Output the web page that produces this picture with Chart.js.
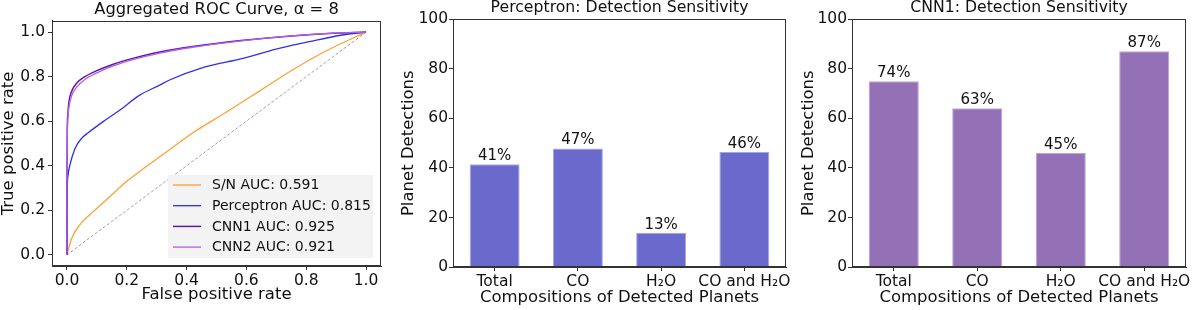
<!DOCTYPE html>
<html>
<head>
<meta charset="utf-8">
<script src="https://cdn.jsdelivr.net/npm/chart.js@4.4.1/dist/chart.umd.min.js"></script>
<style>
  html, body { margin: 0; padding: 0; background: #fff; }
  .panel { position: absolute; top: 0; width: 400px; height: 310px; }
</style>
</head>
<body>
<div class="panel" style="left:0px"><canvas id="rocChart" width="400" height="310"></canvas></div>
<div class="panel" style="left:400px"><canvas id="perceptronChart" width="400" height="310"></canvas></div>
<div class="panel" style="left:800px"><canvas id="cnnChart" width="400" height="310"></canvas></div>
<script>
// ROC curves (false positive rate / true positive rate)
const snFpr = [0, 0.016, 0.043, 0.088, 0.143, 0.199, 0.254, 0.31, 0.343, 0.421, 0.532, 0.643, 0.754, 0.866, 1];
const snTpr = [0, 0.075, 0.135, 0.194, 0.261, 0.329, 0.385, 0.44, 0.472, 0.548, 0.64, 0.735, 0.83, 0.915, 1];
const percFpr = [0, 0, 0.001, 0.004, 0.01, 0.027, 0.049, 0.071, 0.121, 0.177, 0.243, 0.31, 0.343, 0.454, 0.588, 0.699, 0.81, 0.921, 1];
const percTpr = [0, 0.2, 0.3, 0.36, 0.404, 0.478, 0.523, 0.548, 0.598, 0.65, 0.717, 0.762, 0.785, 0.841, 0.882, 0.924, 0.957, 0.987, 1];
const cnn1Fpr = [0, 0, 0.001, 0.003, 0.007, 0.016, 0.032, 0.06, 0.1, 0.155, 0.22, 0.31, 0.42, 0.59, 0.75, 0.89, 1];
const cnn1Tpr = [0, 0.3, 0.55, 0.63, 0.69, 0.735, 0.77, 0.8, 0.827, 0.856, 0.882, 0.911, 0.935, 0.963, 0.983, 0.995, 1];
const cnn2Fpr = [0, 0, 0.001, 0.003, 0.007, 0.016, 0.032, 0.06, 0.1, 0.155, 0.22, 0.31, 0.42, 0.59, 0.75, 0.89, 1];
const cnn2Tpr = [0, 0.3, 0.52, 0.61, 0.665, 0.715, 0.752, 0.787, 0.817, 0.848, 0.876, 0.906, 0.932, 0.962, 0.983, 0.995, 1];
const chanceLine = [0, 1];
const rocTicks = [0, 0.2, 0.4, 0.6, 0.8, 1.0];

// detection sensitivity bars
const categories = ['Total', 'CO', 'H₂O', 'CO and H₂O'];
const perceptronDetections = [41.5, 47.9, 13.8, 46.5];
const perceptronLabels = ['41%', '47%', '13%', '46%'];
const cnn1Detections = [75.0, 64.1, 46.0, 87.2];
const cnn1Labels = ['74%', '63%', '45%', '87%'];

const FONT = "'DejaVu Sans', sans-serif";
const INK = '#111';
const SPINE = '#333';
const TICK_SIZE = 15.5;
const LABEL_SIZE = 16.5;
Chart.defaults.font.family = FONT;
Chart.defaults.color = INK;

function points(xs, ys) {
  return xs.map((x, i) => ({ x: x, y: ys[i] }));
}

// box around the plot area, like matplotlib spines
const framePlugin = {
  id: 'frame',
  afterDatasetsDraw(chart) {
    const { ctx, chartArea: a } = chart;
    ctx.save();
    ctx.strokeStyle = SPINE;
    ctx.lineWidth = 1;
    ctx.strokeRect(Math.round(a.left) + 0.5, Math.round(a.top) + 0.5,
      Math.round(a.right - a.left) - 1, Math.round(a.bottom - a.top) - 1);
    ctx.restore();
  }
};

// legend box in the lower right corner of the ROC plot
const rocLegendPlugin = {
  id: 'rocLegend',
  afterDraw(chart, args, opts) {
    const { ctx, chartArea: a } = chart;
    const items = opts.order.map(i => chart.data.datasets[i]);
    const w = 205, rowH = 20.7, h = 83;
    const x0 = a.right - 8 - w, y0 = a.bottom - 8 - h;
    ctx.save();
    ctx.fillStyle = 'rgba(242,242,242,0.95)';
    ctx.fillRect(x0, y0, w, h);
    ctx.font = '14px ' + FONT;
    ctx.textBaseline = 'middle';
    ctx.textAlign = 'left';
    items.forEach((ds, k) => {
      const y = y0 + 10 + rowH * k;
      ctx.strokeStyle = ds.borderColor;
      ctx.lineWidth = ds.borderWidth;
      ctx.beginPath();
      ctx.moveTo(x0 + 5, y);
      ctx.lineTo(x0 + 33, y);
      ctx.stroke();
      ctx.fillStyle = INK;
      ctx.fillText(ds.label, x0 + 44, y + 0.5);
    });
    ctx.restore();
  }
};

// percentage text above each bar
const barLabelPlugin = {
  id: 'barLabels',
  afterDatasetsDraw(chart, args, opts) {
    const { ctx } = chart;
    const meta = chart.getDatasetMeta(0);
    ctx.save();
    ctx.font = '15px ' + FONT;
    ctx.fillStyle = INK;
    ctx.textAlign = 'center';
    ctx.textBaseline = 'alphabetic';
    meta.data.forEach((bar, i) => ctx.fillText(opts.labels[i], bar.x, bar.y - 4));
    ctx.restore();
  }
};

function tickGrid() {
  return { drawOnChartArea: false, drawTicks: true, tickLength: 4, color: SPINE, offset: false };
}

function line(label, data, color, width) {
  return { label: label, data: data, borderColor: color, borderWidth: width,
    pointRadius: 0, cubicInterpolationMode: 'monotone', fill: false };
}

new Chart(document.getElementById('rocChart'), {
  type: 'line',
  data: {
    datasets: [
      line('CNN2 AUC: 0.921', points(cnn2Fpr, cnn2Tpr), '#b35ef0', 1.3),
      line('CNN1 AUC: 0.925', points(cnn1Fpr, cnn1Tpr), '#5e1a9c', 1.5),
      line('Perceptron AUC: 0.815', points(percFpr, percTpr), '#2f2fe6', 1.3),
      line('S/N AUC: 0.591', points(snFpr, snTpr), '#ffa030', 1.3),
      Object.assign(line('chance', points(chanceLine, chanceLine), '#a0a0a0', 1), { borderDash: [3, 2] })
    ]
  },
  options: {
    responsive: false,
    animation: false,
    devicePixelRatio: 1,
    layout: { padding: { left: 0, right: 19, top: 0, bottom: 0 } },
    plugins: {
      legend: { display: false },
      tooltip: { enabled: false },
      title: { display: true, text: 'Aggregated ROC Curve, α = 8', fullSize: false,
        font: { size: 16.3, weight: 'normal' }, color: INK, padding: { top: 0.3, bottom: 1.1 } },
      rocLegend: { order: [3, 2, 1, 0] }
    },
    scales: {
      x: {
        type: 'linear', min: -0.05, max: 1.05,
        afterBuildTicks: s => { s.ticks = rocTicks.map(v => ({ value: v })); },
        afterFit: s => { s.height = 44; },
        ticks: { callback: v => v.toFixed(1), font: { size: TICK_SIZE }, color: INK, padding: 2, maxRotation: 0 },
        grid: tickGrid(),
        border: { color: SPINE },
        title: { display: true, text: 'False positive rate', font: { size: LABEL_SIZE }, color: INK, padding: { top: 0, bottom: 5 } }
      },
      y: {
        type: 'linear', min: -0.05, max: 1.05,
        afterBuildTicks: s => { s.ticks = rocTicks.map(v => ({ value: v })); },
        afterFit: s => { s.width = 52; },
        ticks: { callback: v => v.toFixed(1), font: { size: TICK_SIZE }, color: INK, padding: 3 },
        grid: tickGrid(),
        border: { color: SPINE },
        title: { display: true, text: 'True positive rate', font: { size: LABEL_SIZE }, color: INK, padding: { top: -1.5, bottom: 0 } }
      }
    }
  },
  plugins: [framePlugin, rocLegendPlugin]
});

function barChart(id, title, values, labels, fill, edge, yWidth) {
  return new Chart(document.getElementById(id), {
    type: 'bar',
    data: {
      labels: categories,
      datasets: [{ data: values, backgroundColor: fill, borderColor: edge, borderWidth: 1,
        barPercentage: 0.6, categoryPercentage: 1.0 }]
    },
    options: {
      responsive: false,
      animation: false,
      devicePixelRatio: 1,
      layout: { padding: { left: 0, right: 14, top: 0, bottom: 0 } },
      plugins: {
        legend: { display: false },
        tooltip: { enabled: false },
        title: { display: true, text: title, fullSize: false,
          font: { size: 15.7, weight: 'normal' }, color: INK, padding: { top: -1.1, bottom: 1.7 } },
        barLabels: { labels: labels }
      },
      scales: {
        x: {
          afterFit: s => { s.height = 43; },
          ticks: { font: { size: TICK_SIZE }, color: INK, padding: 2, maxRotation: 0, autoSkip: false },
          grid: tickGrid(),
          border: { color: SPINE },
          title: { display: true, text: 'Compositions of Detected Planets', font: { size: LABEL_SIZE }, color: INK, padding: { top: 0, bottom: 2 } }
        },
        y: {
          min: 0, max: 100,
          afterFit: s => { s.width = yWidth; },
          ticks: { stepSize: 20, font: { size: TICK_SIZE }, color: INK, padding: 1 },
          grid: tickGrid(),
          border: { color: SPINE },
          title: { display: true, text: 'Planet Detections', font: { size: LABEL_SIZE }, color: INK, padding: { top: -1.5, bottom: 0 } }
        }
      }
    },
    plugins: [framePlugin, barLabelPlugin]
  });
}

barChart('perceptronChart', 'Perceptron: Detection Sensitivity', perceptronDetections, perceptronLabels, '#6a6acd', '#a3a3ec', 53);
barChart('cnnChart', 'CNN1: Detection Sensitivity', cnn1Detections, cnn1Labels, '#9471b6', '#bca3d8', 52);
</script>
</body>
</html>
